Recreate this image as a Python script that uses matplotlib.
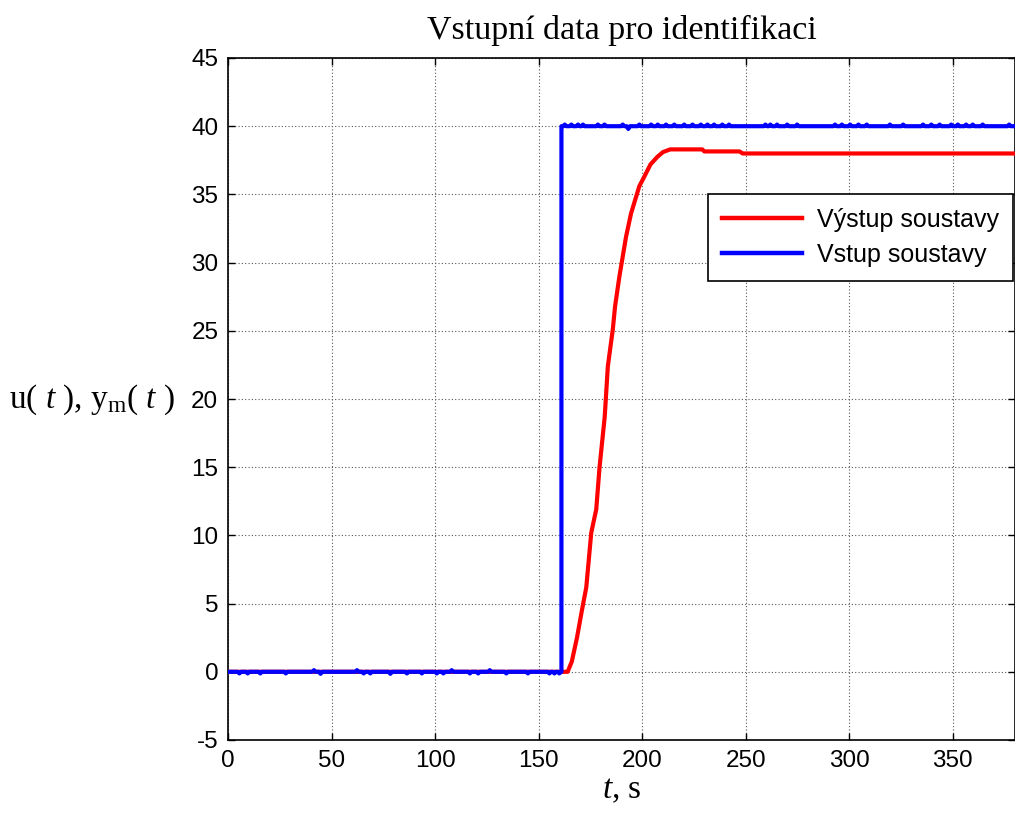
import numpy as np
import matplotlib
matplotlib.use("Agg")
import matplotlib.pyplot as plt

plt.rcParams['mathtext.fontset'] = 'custom'
plt.rcParams['mathtext.rm'] = 'Liberation Serif'
plt.rcParams['mathtext.it'] = 'Liberation Serif:italic'
plt.rcParams['axes.unicode_minus'] = False

# ---- data ----
title = "Vstupní data pro identifikaci"
series_names = ["Výstup soustavy", "Vstup soustavy"]
xticks = [0, 50, 100, 150, 200, 250, 300, 350]
yticks = [-5, 0, 5, 10, 15, 20, 25, 30, 35, 40, 45]

# output (red)
y_t = [0, 164, 166, 168.5, 171, 173, 175.4, 177.8, 179.4, 181.9, 183.4, 185.8,
       186.9, 189, 192.2, 194.6, 198.6, 201, 204, 207.3, 210, 213.5, 229, 230,
       247, 248.5, 380]
y_v = [0, 0, 0.75, 2.5, 4.6, 6.2, 10.2, 11.9, 15.0, 18.7, 22.4, 25.1,
       26.8, 29.0, 31.9, 33.6, 35.6, 36.3, 37.2, 37.75, 38.1, 38.3, 38.3, 38.15,
       38.15, 38.0, 38.0]

# input (blue): step level and small quantisation blips
u_step_time = 161
u_low = 0.0
u_high = 40.0
u_low_blip_t = [5.5, 9.5, 15.6, 27.9, 41.5, 44.7, 62.3, 65.5, 68.7, 78.4, 86.4,
                93.6, 100.8, 104, 108, 116.8, 120.8, 126.4, 134.4, 144.8, 155.2,
                157.6, 160]
u_low_blip_v = [-0.12, -0.12, -0.12, -0.12, 0.12, -0.15, 0.12, -0.12, -0.12, -0.15,
                -0.12, -0.12, -0.12, -0.12, 0.12, -0.12, -0.12, 0.12, -0.12, -0.12,
                -0.12, -0.12, -0.12]
u_high_blip_t = [162.6, 165.8, 169, 171.4, 178.6, 181.8, 190.6, 193.3, 198.6, 204.3,
                 207.5, 211.5, 215.5, 220.3, 224.3, 228.3, 231.5, 234.7, 238.7, 241.9,
                 259.5, 261.9, 265.1, 270, 274.8, 293.1, 296.4, 300.4, 304.4, 308.4,
                 319.6, 326, 335.6, 339.6, 343.6, 349.2, 352.4, 356.4, 359.6, 364.4,
                 377.2]
u_high_blip_v = [0.12, 0.12, 0.12, 0.12, 0.12, 0.12, 0.12, -0.2, 0.12, 0.12,
                 0.12, 0.12, 0.12, 0.12, 0.12, 0.12, 0.12, 0.12, 0.12, 0.12,
                 0.12, 0.12, 0.12, 0.12, 0.12, 0.12, 0.12, 0.12, 0.12, 0.12,
                 0.12, 0.12, 0.12, 0.12, 0.12, 0.12, 0.12, 0.12, 0.12, 0.12,
                 0.12]

# build blue polyline from step + blips
ut = [0.0]
uv = [u_low]
for bt, bv in zip(u_low_blip_t, u_low_blip_v):
    ut += [bt - 0.8, bt, bt + 0.8]
    uv += [u_low, u_low + bv, u_low]
ut += [u_step_time, u_step_time]
uv += [u_low, u_high]
for bt, bv in zip(u_high_blip_t, u_high_blip_v):
    ut += [bt - 0.8, bt, bt + 0.8]
    uv += [u_high, u_high + bv, u_high]
ut += [380]
uv += [u_high]

# ---- figure ----
fig = plt.figure(figsize=(10.15, 8.19), dpi=100)
ax = fig.add_axes([228 / 1015, 1 - 740 / 819, 1 - 228 / 1015, (740 - 58) / 819])

ax.plot(y_t, y_v, color='#ff0000', lw=3.0, label=series_names[0], zorder=3)
ax.plot(ut, uv, color='#0000ff', lw=3.0, label=series_names[1], zorder=4)

ax.set_xlim(1.5, 380)
ax.set_ylim(-5, 45)
ax.set_xticks(xticks)
ax.set_yticks(yticks)
ax.tick_params(direction='in', length=5, width=1, top=True, right=True,
               labelsize=17.5, pad=7)
for lbl in ax.get_xticklabels() + ax.get_yticklabels():
    lbl.set_family('Liberation Sans')
ax.grid(True, color='#555555', linestyle=(0, (1, 2)), linewidth=0.8)
for s in ax.spines.values():
    s.set_linewidth(1.2)

ax.set_title(title, fontsize=24.5, family='Liberation Serif', pad=14)
ax.set_xlabel(r'$\mathit{t}$, s', fontsize=24, family='Liberation Serif', labelpad=2)
fig.text(92 / 1015, 1 - 400 / 819, r'u( $\mathit{t}$ ), y$_{\mathrm{m}}$( $\mathit{t}$ )',
         fontsize=24, family='Liberation Serif', ha='center', va='center')

leg = ax.legend(loc='upper right', bbox_to_anchor=(0.997, 0.8006),
                prop={'family': 'Liberation Sans', 'size': 18},
                fancybox=False, edgecolor='black', framealpha=1,
                handlelength=3.2, handletextpad=0.6, borderpad=0.55,
                labelspacing=0.45, borderaxespad=0)
leg.get_frame().set_linewidth(1.2)
for line in leg.get_lines():
    line.set_linewidth(3.2)

fig.savefig('out.png', dpi=100)
